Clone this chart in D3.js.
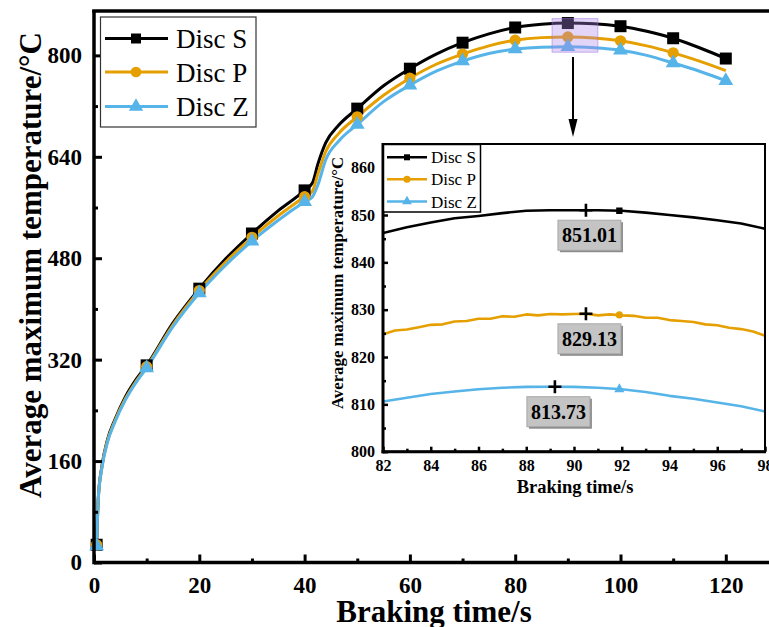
<!DOCTYPE html>
<html>
<head>
<meta charset="utf-8">
<script src="https://cdn.jsdelivr.net/npm/d3@7/dist/d3.min.js"></script>
<style>
  html, body { margin: 0; padding: 0; background: #fff; }
  svg { display: block; }
  text { font-family: "Liberation Serif", "Times New Roman", serif; }
</style>
</head>
<body>
<svg id="chart" width="769" height="627"></svg>
<script>
// ---- main chart data: braking time (s) vs average maximum temperature (°C)
const seriesNames = ["Disc S", "Disc P", "Disc Z"];
const seriesColors = ["#000000", "#E69F00", "#56B4E9"];

const timeMain = [0.5, 0.8, 1.5, 2.5, 4, 6, 8, 10, 15, 20, 25, 30, 35, 40, 41.5, 42.5, 44, 46.5, 50,
                  55, 60, 65, 70, 75, 80, 85, 90, 95, 100, 105, 110, 115, 120];
const tempS = [28, 100, 152, 192, 226, 262, 289, 311, 378, 432, 479, 519, 555, 587, 599, 628, 662, 690, 716,
               752, 779, 802, 820, 834, 844, 849, 851, 850, 846, 838, 827, 812, 795];
const tempP = [28, 99, 150, 190, 224, 259, 286, 309, 375, 429, 474, 513, 547, 577, 586, 612, 648, 677, 703,
               737, 764, 786, 802, 815, 824, 828, 829, 827.5, 823, 815, 804, 791, 776];
const tempZ = [26, 98, 149, 188, 222, 257, 284, 307, 372, 425, 469, 507, 540, 569, 577, 595, 635, 665, 691,
               727, 753, 775, 791, 803, 810, 813, 813.7, 812, 808, 800, 788, 775, 760];

const markerTimesS = [0.5, 10, 20, 30, 40, 50, 60, 70, 80, 90, 100, 110, 120];
const markerTimesP = [0.5, 10, 20, 30, 40, 50, 60, 70, 80, 90, 100, 110];
const markerTimesZ = [0.5, 10, 20, 30, 40, 50, 60, 70, 80, 90, 100, 110, 120];

const mainXTicks = [0, 20, 40, 60, 80, 100, 120];
const mainXMinor = [10, 30, 50, 70, 90, 110];
const mainYTicks = [0, 160, 320, 480, 640, 800];
const mainYMinor = [80, 240, 400, 560, 720];

// highlighted region around the peak (time range, temperature range)
const zoomRegionX = [87, 95.7];
const zoomRegionY = [805, 858];

// ---- inset data: close-up of the peak
const insetTimeS = [82, 83, 84, 85, 86, 87, 88, 89, 90, 91, 92, 93, 94, 95, 96, 97, 98];
const insetS = [846.2, 847.4, 848.4, 849.3, 849.8, 850.4, 850.9, 851.0, 851.0, 851.0, 850.9, 850.5, 850.0, 849.5, 848.9, 848.2, 847.1];
const insetTimeP = [82, 82.5, 83, 83.5, 84, 84.5, 85, 85.5, 86, 86.5, 87, 87.5, 88, 88.5, 89, 89.5, 90, 90.5,
                    91, 91.5, 92, 92.5, 93, 93.5, 94, 94.5, 95, 95.5, 96, 96.5, 97, 97.5, 98];
const insetP = [824.8, 825.6, 825.8, 826.3, 826.8, 826.9, 827.5, 827.6, 828.1, 828.1, 828.6, 828.5, 829.0, 828.8, 829.1, 829.0, 829.1, 829.13,
                828.8, 829.0, 828.8, 828.7, 828.3, 828.3, 827.8, 827.6, 827.4, 826.9, 826.7, 826.2, 825.9, 825.4, 824.5];
const insetTimeZ = [82, 83, 84, 85, 86, 87, 88, 89, 90, 91, 92, 93, 94, 95, 96, 97, 98];
const insetZ = [810.6, 811.4, 812.2, 812.7, 813.2, 813.5, 813.7, 813.73, 813.7, 813.5, 813.2, 812.6, 811.8, 811.2, 810.4, 809.6, 808.5];

const insetMarkerTime = 91.9;
const insetMarkerTemp = [850.9, 828.9, 813.2];

// peak annotations
const peakTime = [90.5, 90.5, 89.2];
const peakTemp = [851.01, 829.13, 813.73];

const insetXTicks = [82, 84, 86, 88, 90, 92, 94, 96, 98];
const insetXMinor = [83, 85, 87, 89, 91, 93, 95, 97];
const insetYTicks = [800, 810, 820, 830, 840, 850, 860];
const insetYMinor = [805, 815, 825, 835, 845, 855];

// ---- drawing
const svg = d3.select("#chart");
const FONT = '"Liberation Serif", "Times New Roman", serif';

const x = d3.scaleLinear().domain([0, 130]).range([94, 94 + 130 * 5.265]);
const y = d3.scaleLinear().domain([0, 870]).range([562.5, 11]);

const mainSeries = [
  { t: timeMain, v: tempS, m: markerTimesS },
  { t: timeMain, v: tempP, m: markerTimesP },
  { t: timeMain, v: tempZ, m: markerTimesZ }
];
const symbols = [d3.symbolSquare, d3.symbolCircle, d3.symbolTriangle];
const mainSymbolSize = [144, 100, 95];

const lineMain = d3.line().x(d => x(d[0])).y(d => y(d[1])).curve(d3.curveMonotoneX);

// curves
mainSeries.forEach((s, i) => {
  const pts = s.t.map((t, k) => [t, s.v[k]]);
  svg.append("path").datum(pts)
    .attr("d", lineMain)
    .attr("fill", "none")
    .attr("stroke", seriesColors[i])
    .attr("stroke-width", 3)
    .attr("stroke-linejoin", "round");
});
// markers
mainSeries.forEach((s, i) => {
  const pts = s.m.map(t => [t, s.v[s.t.indexOf(t)]]);
  svg.append("g").selectAll("path").data(pts).join("path")
    .attr("transform", d => `translate(${x(d[0])},${y(d[1])})`)
    .attr("d", d3.symbol().type(symbols[i]).size(mainSymbolSize[i]))
    .attr("fill", seriesColors[i]);
});

// highlighted region
svg.append("rect")
  .attr("x", x(zoomRegionX[0])).attr("y", y(zoomRegionY[1]))
  .attr("width", x(zoomRegionX[1]) - x(zoomRegionX[0]))
  .attr("height", y(zoomRegionY[0]) - y(zoomRegionY[1]))
  .attr("fill", "rgba(175,135,235,0.35)")
  .attr("stroke", "rgba(160,120,225,0.55)")
  .attr("stroke-width", 1);

// arrow from the highlighted region down to the inset
const ax = 573;
svg.append("line").attr("x1", ax).attr("x2", ax).attr("y1", 57).attr("y2", 124)
  .attr("stroke", "#000").attr("stroke-width", 2);
svg.append("path").attr("d", `M${ax - 4.5},119 L${ax + 4.5},119 L${ax},137 Z`).attr("fill", "#000");

// main axes
const gx = svg.append("g").attr("transform", `translate(0,${y(0)})`)
  .call(d3.axisBottom(x).tickValues(mainXTicks).tickSize(-8).tickPadding(14).tickFormat(d3.format("d")));
const gxm = svg.append("g").attr("transform", `translate(0,${y(0)})`)
  .call(d3.axisBottom(x).tickValues(mainXMinor).tickSize(-4).tickFormat(""));
const gy = svg.append("g").attr("transform", `translate(${x(0)},0)`)
  .call(d3.axisLeft(y).tickValues(mainYTicks).tickSize(-8).tickPadding(12).tickFormat(d3.format("d")));
const gym = svg.append("g").attr("transform", `translate(${x(0)},0)`)
  .call(d3.axisLeft(y).tickValues(mainYMinor).tickSize(-4).tickFormat(""));
[gx, gxm, gy, gym].forEach(g => {
  g.select(".domain").remove();
  g.selectAll(".tick line").attr("stroke", "#000").attr("stroke-width", 3);
  g.selectAll("text").attr("font-family", FONT).attr("font-weight", "bold")
    .attr("font-size", 23).attr("fill", "#000");
});
// axis frame lines
svg.append("line").attr("x1", x(0)).attr("x2", 769).attr("y1", y(0)).attr("y2", y(0))
  .attr("stroke", "#000").attr("stroke-width", 3.5);
svg.append("line").attr("x1", x(0)).attr("x2", x(0)).attr("y1", 10).attr("y2", y(0) + 1.75)
  .attr("stroke", "#000").attr("stroke-width", 3.5);
svg.append("line").attr("x1", x(0) - 1.75).attr("x2", 769).attr("y1", 11).attr("y2", 11)
  .attr("stroke", "#000").attr("stroke-width", 3.5);

// axis titles
svg.append("text")
  .attr("x", 434).attr("y", 622)
  .attr("text-anchor", "middle").attr("font-weight", "bold").attr("font-size", 31)
  .text("Braking time/s");
svg.append("text")
  .attr("transform", "translate(41,265) rotate(-90)")
  .attr("text-anchor", "middle").attr("font-weight", "bold").attr("font-size", 31)
  .text("Average maximum temperature/°C");

// main legend
const legMain = svg.append("g");
legMain.append("rect").attr("x", 100.5).attr("y", 17).attr("width", 155.5).attr("height", 110)
  .attr("fill", "#fff").attr("stroke", "#333").attr("stroke-width", 1.2);
const legRowsMain = [38.5, 72, 106.5];
seriesNames.forEach((name, i) => {
  const ry = legRowsMain[i];
  legMain.append("line").attr("x1", 105).attr("x2", 168).attr("y1", ry).attr("y2", ry)
    .attr("stroke", seriesColors[i]).attr("stroke-width", 3);
  legMain.append("path").attr("transform", `translate(136,${ry})`)
    .attr("d", d3.symbol().type(symbols[i]).size([100, 90, 90][i]))
    .attr("fill", seriesColors[i]);
  legMain.append("text").attr("x", 176).attr("y", ry + 9.5)
    .attr("font-size", 27).attr("fill", "#000").text(name);
});

// ---- inset
const ix = d3.scaleLinear().domain([82, 98]).range([383, 765]);
const iy = d3.scaleLinear().domain([800, 865]).range([451.7, 144]);

svg.append("rect").attr("x", 383).attr("y", 144).attr("width", 382).attr("height", 307.7).attr("fill", "#fff");
svg.append("clipPath").attr("id", "insetClip").append("rect")
  .attr("x", 383).attr("y", 144).attr("width", 382).attr("height", 307.7);

const lineInset = d3.line().x(d => ix(d[0])).y(d => iy(d[1]));
const insetSeries = [
  { t: insetTimeS, v: insetS },
  { t: insetTimeP, v: insetP },
  { t: insetTimeZ, v: insetZ }
];
const gIn = svg.append("g").attr("clip-path", "url(#insetClip)");
insetSeries.forEach((s, i) => {
  gIn.append("path").datum(s.t.map((t, k) => [t, s.v[k]]))
    .attr("d", lineInset).attr("fill", "none")
    .attr("stroke", seriesColors[i]).attr("stroke-width", 2.6).attr("stroke-linejoin", "round");
});
insetMarkerTemp.forEach((v, i) => {
  gIn.append("path").attr("transform", `translate(${ix(insetMarkerTime)},${iy(v)})`)
    .attr("d", d3.symbol().type(symbols[i]).size([40, 40, 45][i]))
    .attr("fill", seriesColors[i]);
});

// inset axes
const igx = svg.append("g").attr("transform", `translate(0,${iy(800)})`)
  .call(d3.axisBottom(ix).tickValues(insetXTicks).tickSize(-5).tickPadding(8).tickFormat(d3.format("d")));
const igxm = svg.append("g").attr("transform", `translate(0,${iy(800)})`)
  .call(d3.axisBottom(ix).tickValues(insetXMinor).tickSize(-3).tickFormat(""));
const igy = svg.append("g").attr("transform", `translate(${ix(82)},0)`)
  .call(d3.axisLeft(iy).tickValues(insetYTicks).tickSize(-5).tickPadding(8).tickFormat(d3.format("d")));
const igym = svg.append("g").attr("transform", `translate(${ix(82)},0)`)
  .call(d3.axisLeft(iy).tickValues(insetYMinor).tickSize(-3).tickFormat(""));
[igx, igxm, igy, igym].forEach(g => {
  g.select(".domain").remove();
  g.selectAll(".tick line").attr("stroke", "#000").attr("stroke-width", 2.5);
  g.selectAll("text").attr("font-family", FONT).attr("font-weight", "bold")
    .attr("font-size", 16).attr("fill", "#000");
});
svg.append("rect").attr("x", 383).attr("y", 144).attr("width", 382).attr("height", 307.7)
  .attr("fill", "none").attr("stroke", "#000").attr("stroke-width", 2);
svg.append("line").attr("x1", 383).attr("x2", 383).attr("y1", 143).attr("y2", 453.2)
  .attr("stroke", "#000").attr("stroke-width", 3);
svg.append("line").attr("x1", 381.5).attr("x2", 766).attr("y1", 451.7).attr("y2", 451.7)
  .attr("stroke", "#000").attr("stroke-width", 3);

svg.append("text").attr("x", 575).attr("y", 493)
  .attr("text-anchor", "middle").attr("font-weight", "bold").attr("font-size", 18.5)
  .text("Braking time/s");
svg.append("text").attr("transform", "translate(343,283) rotate(-90)")
  .attr("text-anchor", "middle").attr("font-weight", "bold").attr("font-size", 16.8)
  .text("Average maximum temperature/°C");

// inset legend
const legIn = svg.append("g");
legIn.append("rect").attr("x", 383.5).attr("y", 144.5).attr("width", 97).attr("height", 67.5)
  .attr("fill", "#fff").attr("stroke", "#000").attr("stroke-width", 1.5);
const legRowsIn = [157.3, 179.3, 201.5];
seriesNames.forEach((name, i) => {
  const ry = legRowsIn[i];
  legIn.append("line").attr("x1", 387).attr("x2", 427).attr("y1", ry).attr("y2", ry)
    .attr("stroke", seriesColors[i]).attr("stroke-width", 2.6);
  legIn.append("path").attr("transform", `translate(407,${ry})`)
    .attr("d", d3.symbol().type(symbols[i]).size([36, 40, 42][i]))
    .attr("fill", seriesColors[i]);
  legIn.append("text").attr("x", 431).attr("y", ry + 6)
    .attr("font-size", 17).attr("fill", "#000").text(name);
});

// peak markers and value labels
peakTemp.forEach((v, i) => {
  const px = ix(peakTime[i]), py = iy(v);
  svg.append("path").attr("d", `M${px - 6.5},${py}H${px + 6.5}M${px},${py - 6.5}V${py + 6.5}`)
    .attr("stroke", "#000").attr("stroke-width", 2.6);
  const bx = px + 3.5, by = py + 25;
  const w = 63, h = 30;
  const g = svg.append("g");
  g.append("rect").attr("x", bx - w / 2 + 2).attr("y", by - h / 2 + 2).attr("width", w).attr("height", h)
    .attr("fill", "#8a8a8a");
  g.append("rect").attr("x", bx - w / 2).attr("y", by - h / 2).attr("width", w).attr("height", h)
    .attr("fill", "#c4c4c4").attr("stroke", "#a8a8a8").attr("stroke-width", 1);
  g.append("text").attr("x", bx).attr("y", by + 7)
    .attr("text-anchor", "middle").attr("font-weight", "bold").attr("font-size", 20)
    .attr("fill", "#000").text(d3.format(".2f")(v));
});
</script>
</body>
</html>
